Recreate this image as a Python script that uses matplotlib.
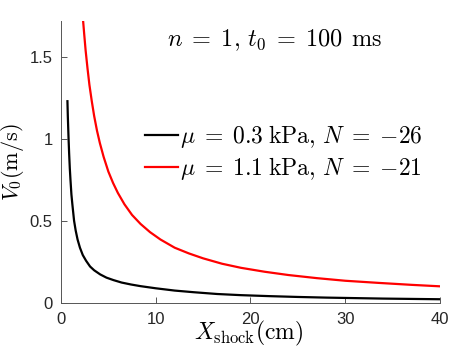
import matplotlib
matplotlib.use("Agg")
import matplotlib.pyplot as plt

plt.rcParams['mathtext.fontset'] = 'cm'
plt.rcParams['font.family'] = ['Liberation Sans', 'DejaVu Sans']

# Values
x_black = [0.68, 0.72, 0.76, 0.8, 0.86, 0.93, 1.0, 1.1, 1.2, 1.38, 1.55, 1.75, 2.0,
           2.3, 2.65, 3.07, 3.5, 4.13, 4.8, 5.54, 6.4, 7.4, 8.4, 10.0, 12.0, 14.0,
           16.5, 19.0, 22.0, 25.0, 28.0, 31.0, 34.0, 37.0, 40.0]
y_black = [1.23, 1.14, 1.07, 1.0, 0.91, 0.82, 0.75, 0.66, 0.60, 0.50, 0.44, 0.385, 0.335,
           0.29, 0.255, 0.22, 0.197, 0.172, 0.152, 0.137, 0.122, 0.11, 0.10, 0.087, 0.073, 0.063,
           0.052, 0.045, 0.039, 0.034, 0.030, 0.027, 0.024, 0.022, 0.020]

x_red = [2.25, 2.35, 2.45, 2.6, 2.8, 3.0, 3.25, 3.5, 3.8, 4.1, 4.5, 5.0, 5.5, 6.0,
         6.7, 7.5, 8.4, 9.4, 10.5, 12.0, 13.5, 15.0, 17.0, 19.0, 21.5, 24.0, 27.0,
         30.0, 33.5, 37.0, 40.0]
y_red = [1.78, 1.71, 1.64, 1.54, 1.43, 1.33, 1.23, 1.14, 1.05, 0.975, 0.89, 0.80, 0.73, 0.67,
         0.60, 0.535, 0.48, 0.43, 0.385, 0.335, 0.30, 0.27, 0.237, 0.212, 0.188, 0.168, 0.149,
         0.133, 0.12, 0.108, 0.099]

label_black = r'$\mu\;=\;0.3\;\mathrm{kPa},\,N\;=\;{-}26$'
label_red = r'$\mu\;=\;1.1\;\mathrm{kPa},\,N\;=\;{-}21$'
annotation = r'$n\;=\;1,\,t_0\;=\;100\;\,\mathrm{ms}$'

x_ticks = [0, 10, 20, 30, 40]
y_ticks = [0, 0.5, 1, 1.5]
y_tick_labels = ['0', '0.5', '1', '1.5']

fig = plt.figure(figsize=(4.71, 3.53), dpi=100)
ax = fig.add_axes([0.1295, 0.143, 0.8045, 0.7975])

ax.plot(x_black, y_black, color='black', lw=1.6, label=label_black,
        solid_joinstyle='round')
ax.plot(x_red, y_red, color='#ff0000', lw=1.6, label=label_red,
        solid_joinstyle='round')

ax.set_xlim(0, 40)
ax.set_ylim(0, 1.72)
ax.set_xticks(x_ticks)
ax.set_xticklabels([str(t) for t in x_ticks])
ax.set_yticks(y_ticks)
ax.set_yticklabels(y_tick_labels)

for s in ['top', 'right']:
    ax.spines[s].set_visible(False)
for s in ['left', 'bottom']:
    ax.spines[s].set_color('#555555')
    ax.spines[s].set_linewidth(0.7)
ax.tick_params(direction='in', length=4, width=0.7, color='#555555',
               labelsize=12, labelcolor='#262626')
ax.tick_params(axis='x', pad=7)
ax.tick_params(axis='y', pad=6)

ax.set_xlabel(r'$X_{\mathrm{shock}}(\mathrm{cm})$', fontsize=17, va='center', ha='center')
ax.xaxis.set_label_coords(0.496, -0.11)
ax.set_ylabel(r'$V_0(\mathrm{m/s})$', fontsize=16, va='center', ha='center')
ax.yaxis.set_label_coords(-0.127, 0.499)

ax.text(0.565, 0.932, annotation, transform=ax.transAxes,
        ha='center', va='center', fontsize=17.5)

leg = ax.legend(loc='center left', bbox_to_anchor=(0.222, 0.532), frameon=False,
                fontsize=17, handlelength=1.4, handletextpad=0.08, labelspacing=0.2,
                borderaxespad=0, borderpad=0)

fig.savefig('out.png', dpi=100)
